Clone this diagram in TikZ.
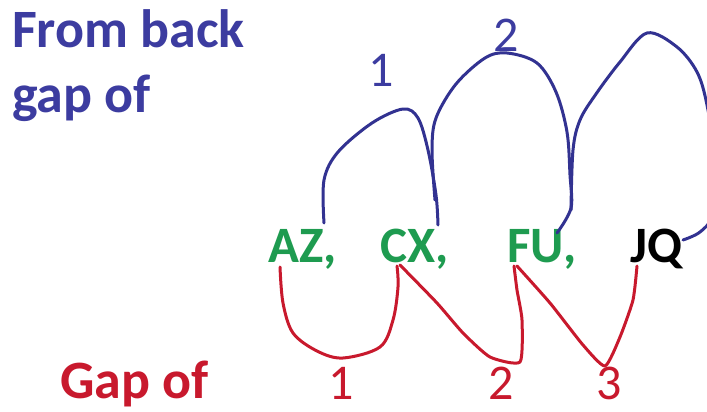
\documentclass[tikz,border=0pt]{standalone}
\usepackage{fontspec}
\setmainfont{Carlito}
\definecolor{bluetxt}{RGB}{60,60,160}
\definecolor{blueln}{RGB}{50,50,145}
\definecolor{grn}{RGB}{30,155,80}
\definecolor{redc}{RGB}{200,25,45}
\tikzset{
  big/.style={inner sep=0pt, anchor=base west, font=\fontsize{54}{60}\selectfont\bfseries},
  lab/.style={inner sep=0pt, anchor=base west, font=\fontsize{51}{60}\selectfont\bfseries},
  num/.style={inner sep=0pt, anchor=base, font=\fontsize{50}{60}\selectfont},
  bl/.style={draw=blueln, line width=3pt, line cap=round, line join=round},
  rd/.style={draw=redc, line width=3pt, line cap=round, line join=round},
}
\begin{document}
\begin{tikzpicture}[x=1pt,y=-1pt]
\useasboundingbox (0,0) rectangle (707,412);
\fill[white] (0,0) rectangle (707,412);
\begin{scope}
\clip (0,0) rectangle (707,412);
% titles
\node[big, text=bluetxt] (t1) at (12,48) {From back};
\node[big, text=bluetxt] (t2) at (12,113) {gap of};
\node[big, text=redc] (t3) at (60,398) {Gap of};
% labels
\node[lab, text=grn] (AZ) at (268,262) {AZ,};
\node[lab, text=grn] (CX) at (380,262) {CX,};
\node[lab, text=grn] (FU) at (507,262) {FU,};
\node[lab, text=black] (JQ) at (630,262) {JQ};
% numbers
\node[num, text=bluetxt] (b1) at (381,87) {1};
\node[num, text=bluetxt] (b2) at (506,52) {2};
\node[num, text=redc] (r1) at (341,399) {1};
\node[num, text=redc] (r2) at (501,399) {2};
\node[num, text=redc] (r3) at (609,399) {3};
% blue arcs
\draw[bl] plot[smooth, tension=0.55] coordinates {([shift={(56,-39)}]AZ.base west) (324,180) (338,152) (372,123) (403,109) (418,118) (428,150) (436,195) ([shift={(58,-37)}]CX.base west)};
\draw[bl] plot[smooth, tension=0.55] coordinates {(435,200) (432,150) (436,118) (456,84) (485,58) (507,53) (537,63) (556,92) (567,132) (570,175) (571,208) ([shift={(50,-29)}]FU.base west)};
\draw[bl] plot[smooth, tension=0.55] coordinates {(571,210) (573,150) (580,120) (596,94) (620,62) (647,33) (677,47) (697,72) (707,105) (716,165) (712,215) (700,232) ([shift={(53,-22)}]JQ.base west)};
% red arcs
\draw[rd] plot[smooth, tension=0.55] coordinates {([shift={(12,5)}]AZ.base west) (283,303) (293,333) (317,351) (343,358) (380,347) (393,320) (398,287) ([shift={(17,4)}]CX.base west)};
\draw[rd] plot[smooth, tension=0.35] coordinates {([shift={(20,3)}]CX.base west) (437,303) (463,333) (490,357) (520,362) (522,320) (517,290) ([shift={(7,4)}]FU.base west)};
\draw[rd] plot[smooth, tension=0.35] coordinates {([shift={(10,4)}]FU.base west) (550,303) (583,345) (605,366) (620,337) (633,300) ([shift={(7,4)}]JQ.base west)};
\end{scope}
\end{tikzpicture}
\end{document}
